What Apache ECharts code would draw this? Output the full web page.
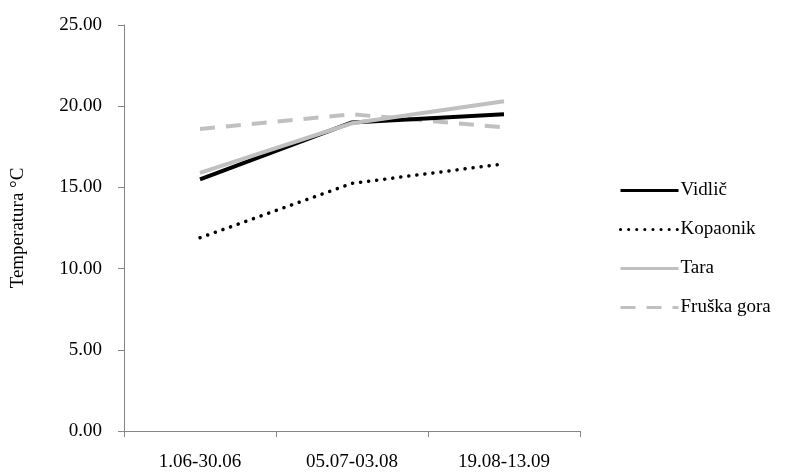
<!DOCTYPE html>
<html><head><meta charset="utf-8">
<script src="https://cdn.jsdelivr.net/npm/echarts@6/dist/echarts.min.js"></script>
<style>html,body{margin:0;padding:0;background:#fff}#c{width:792px;height:475px}</style>
</head><body><div id="c"></div>
<script>
var categories = ['1.06-30.06', '05.07-03.08', '19.08-13.09'];
var vidlic = [15.5, 19.0, 19.5];
var kopaonik = [11.9, 15.25, 16.45];
var tara = [15.9, 18.95, 20.3];
var fruskaGora = [18.6, 19.5, 18.7];
var yTicks = [0, 5, 10, 15, 20, 25];
var seriesNames = ['Vidlič', 'Kopaonik', 'Tara', 'Fruška gora'];

var font = 'Liberation Serif';
var fs = 19;
var chart = echarts.init(document.getElementById('c'));
chart.setOption({
  animation: false,
  grid: {left: 124, right: 212, top: 25, bottom: 44},
  legend: {
    orient: 'vertical', left: 614, top: 176, itemGap: 20, itemWidth: 58, itemHeight: 20,
    textStyle: {fontFamily: font, fontSize: fs, color: '#000', padding: [0,0,0,-3]},
    itemStyle: {opacity: 0},
    lineStyle: {width: 3},
    data: seriesNames.map(function(n){ return {name: n, itemStyle: {opacity: 0}}; })
  },
  xAxis: {
    type: 'category', data: categories, boundaryGap: true,
    axisLine: {lineStyle: {color: '#868686', width: 1}},
    axisTick: {show: true, length: 6, lineStyle: {color: '#868686'}},
    axisLabel: {fontFamily: font, fontSize: fs, color: '#000', margin: 22}
  },
  yAxis: {
    type: 'value', min: yTicks[0], max: yTicks[yTicks.length-1], interval: 5,
    name: 'Temperatura °C', nameLocation: 'middle', nameGap: 96, nameRotate: 90,
    nameTextStyle: {fontFamily: font, fontSize: fs, color: '#000'},
    splitLine: {show: false},
    axisLine: {show: true, lineStyle: {color: '#868686', width: 1}},
    axisTick: {show: true, length: 6, lineStyle: {color: '#868686'}},
    axisLabel: {fontFamily: font, fontSize: fs, color: '#000', margin: 22,
      formatter: function(v){ return v.toFixed(2); }}
  },
  series: [
    {name: 'Fruška gora', type: 'line', data: fruskaGora, showSymbol: false, symbol: 'none', z: 1,
      lineStyle: {color: '#c0c0c0', width: 4, type: [15, 11]}, itemStyle: {color: '#c0c0c0'}},
    {name: 'Vidlič', type: 'line', data: vidlic, showSymbol: false, symbol: 'none', z: 2,
      lineStyle: {color: '#000', width: 4}, itemStyle: {color: '#000'}},
    {name: 'Tara', type: 'line', data: tara, showSymbol: false, symbol: 'none', z: 3,
      lineStyle: {color: '#c0c0c0', width: 4}, itemStyle: {color: '#c0c0c0'}},
    {name: 'Kopaonik', type: 'line', data: kopaonik, showSymbol: false, symbol: 'none', z: 2,
      lineStyle: {color: '#000', width: 3.5, type: [0.1, 8], cap: 'round'}, itemStyle: {color: '#000'}}
  ]
});
</script></body></html>
